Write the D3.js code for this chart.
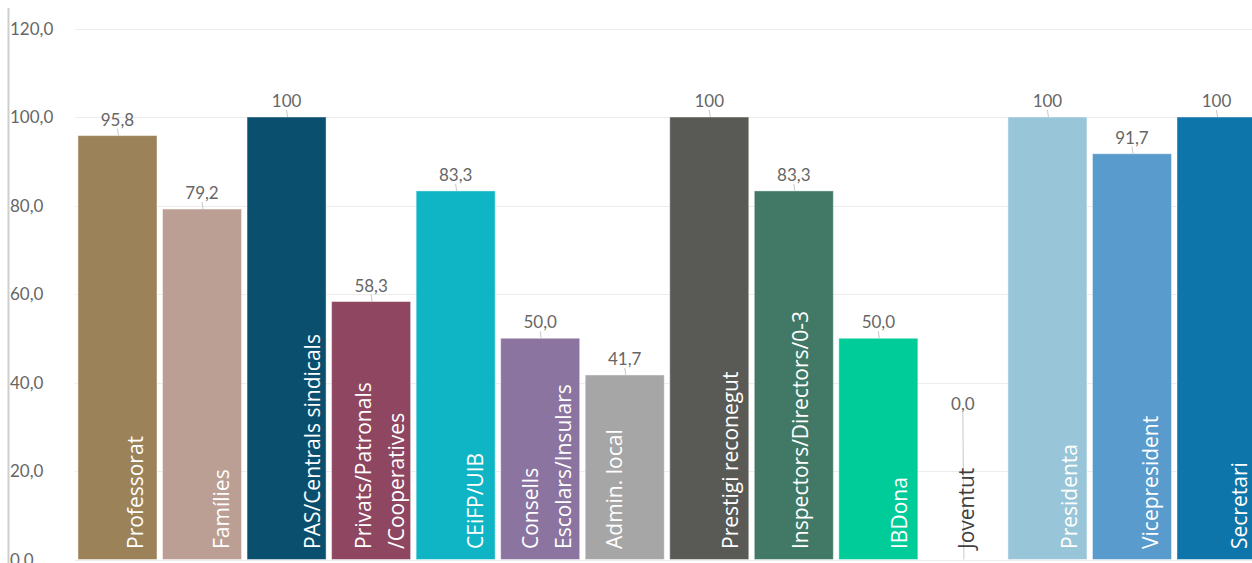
<!DOCTYPE html>
<html>
<head>
<meta charset="utf-8">
<script src="https://cdn.jsdelivr.net/npm/d3@7"></script>
<style>
  html, body { margin: 0; padding: 0; background: #fff; }
  svg { display: block; }
</style>
</head>
<body>
<svg id="chart" width="1252" height="563"></svg>
<script>
// ---- data ----
const categories = [
  ["Professorat"],
  ["Famílies"],
  ["PAS/Centrals sindicals"],
  ["Privats/Patronals", "/Cooperatives"],
  ["CEiFP/UIB"],
  ["Consells", "Escolars/Insulars"],
  ["Admin. local"],
  ["Prestigi reconegut"],
  ["Inspectors/Directors/0-3"],
  ["IBDona"],
  ["Joventut"],
  ["Presidenta"],
  ["Vicepresident"],
  ["Secretari"]
];
const values = [95.8, 79.2, 100, 58.3, 83.3, 50.0, 41.7, 100, 83.3, 50.0, 0.0, 100, 91.7, 100];
const valueLabels = ["95,8", "79,2", "100", "58,3", "83,3", "50,0", "41,7", "100", "83,3", "50,0", "0,0", "100", "91,7", "100"];
const colors = ["#9B8259", "#BB9F94", "#0A4F6E", "#8F4661", "#10B5C5", "#8B74A0", "#A6A6A6",
                "#595A56", "#417966", "#00CC99", "#FFFFFF", "#98C6D8", "#5A9BCD", "#0E75AA"];
const yTicks = [0, 20, 40, 60, 80, 100, 120];
const yTickLabels = ["0,0", "20,0", "40,0", "60,0", "80,0", "100,0", "120,0"];

// ---- layout (label nudges, px, as placed in the original) ----
const catLabelNudge = [18, 19, 26, 9, 20, 7, -10, 21, 7, 21, 4, 22, 18, 23];

const svg = d3.select("#chart");
const W = 1252, H = 563;

const idx = d3.range(values.length);
const x = d3.scaleBand().domain(idx).range([75, 1259]).paddingInner(0.065).paddingOuter(0.035);
const y = d3.scaleLinear().domain([0, 120]).range([559.5, 28.5]);

// gridlines
svg.append("g").selectAll("line").data(yTicks).join("line")
  .attr("x1", 75).attr("x2", W)
  .attr("y1", d => Math.round(y(d)) + 0.5).attr("y2", d => Math.round(y(d)) + 0.5)
  .attr("stroke", "#ececec").attr("stroke-width", 1);

// y axis line
svg.append("line").attr("x1", 8.5).attr("x2", 8.5).attr("y1", 8).attr("y2", H)
  .attr("stroke", "#cfcfcf").attr("stroke-width", 2);

// y tick labels
svg.append("g").selectAll("text").data(yTicks).join("text")
  .attr("x", 10).attr("y", d => y(d))
  .attr("dy", "0.36em")
  .attr("font-family", "Lato, 'Open Sans', sans-serif")
  .attr("font-size", 17).attr("fill", "#666666")
  .text((d, i) => yTickLabels[i]);

// bars
svg.append("g").selectAll("rect").data(idx).join("rect")
  .attr("x", i => x(i)).attr("width", x.bandwidth())
  .attr("y", i => y(values[i])).attr("height", i => y(0) - y(values[i]))
  .attr("fill", i => colors[i])
  .attr("stroke", "rgba(255,255,255,0.45)").attr("stroke-width", 1);

// value labels with leader lines
const lbl = svg.append("g");
idx.forEach(i => {
  const cx = x(i) + x.bandwidth() / 2;
  const top = y(values[i]);
  const ly = values[i] === 0 ? y(35.2) : top - 16;
  lbl.append("line")
    .attr("x1", cx).attr("x2", cx + 1)
    .attr("y1", ly + 9).attr("y2", top)
    .attr("stroke", "#c8c8c8").attr("stroke-width", 1);
  lbl.append("text")
    .attr("x", cx).attr("y", ly).attr("dy", "0.36em")
    .attr("text-anchor", "middle")
    .attr("font-family", "Lato, 'Open Sans', sans-serif")
    .attr("font-size", 17).attr("fill", "#666666")
    .text(valueLabels[i]);
});

// category labels (rotated, inside base)
const catG = svg.append("g");
const lineGap = 33;
idx.forEach(i => {
  const lines = categories[i];
  const cx = x(i) + x.bandwidth() / 2 + catLabelNudge[i];
  const baseY = 549;
  const t = catG.append("text")
    .attr("transform", `translate(${cx},${baseY}) rotate(-90)`)
    .attr("font-family", "'Open Sans', sans-serif")
    .attr("font-size", 21)
    .attr("fill", values[i] === 0 ? "#404040" : "#ffffff");
  const n = lines.length;
  lines.forEach((ln, k) => {
    const off = (k - (n - 1) / 2) * lineGap;
    t.append("tspan").attr("x", 0).attr("y", off).attr("dy", "0.36em").text(ln);
  });
});
</script>
</body>
</html>
